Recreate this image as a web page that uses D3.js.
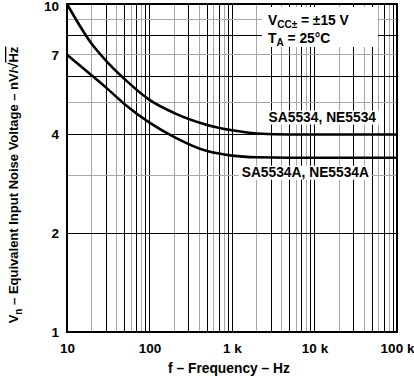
<!DOCTYPE html>
<html>
<head>
<meta charset="utf-8">
<script src="https://cdn.jsdelivr.net/npm/d3@7"></script>
<style>
    body { margin: 0; background: #fff; }
    svg text { font-family: "Liberation Sans", Arial, sans-serif; font-weight: bold; fill: #000; }
</style>
</head>
<body>
<div id="noiseChart"></div>
<script>

// Frequency points (Hz)
const frequencies = [10, 20, 30, 50, 100, 200, 500, 1000, 2000, 5000, 10000, 100000];

// Noise voltage, nV/sqrt(Hz)
const noiseSA5534 = [10, 7.55, 6.7, 5.9, 5.1, 4.65, 4.28, 4.12, 4.03, 4.0, 4.0, 4.0];
const noiseSA5534A = [7.0, 6.05, 5.55, 4.95, 4.35, 3.93, 3.56, 3.45, 3.41, 3.4, 3.4, 3.4];

const seriesNames = ["SA5534, NE5534", "SA5534A, NE5534A"];

// Tick labels
const xTickValues = [10, 100, 1000, 10000, 100000];
const xTickLabels = ["10", "100", "1 k", "10 k", "100 k"];
const yTickValues = [1, 2, 4, 7, 10];
const yTickLabels = ["1", "2", "4", "7", "10"];


class NoiseChart {

    constructor(parentElement) {
        this.parentElement = parentElement;
        this.initVis();
    }

    initVis() {
        let vis = this;

        vis.margin = {top: 4, right: 17, bottom: 44, left: 67};
        vis.width = 414;
        vis.height = 376;

        vis.svg = d3.select("#" + vis.parentElement)
            .append("svg")
            .attr("width", vis.width)
            .attr("height", vis.height);

        vis.x = d3.scaleLog()
            .domain([10, 100000])
            .range([vis.margin.left, vis.width - vis.margin.right]);

        vis.y = d3.scaleLog()
            .domain([1, 10])
            .range([vis.height - vis.margin.bottom, vis.margin.top]);

        vis.drawGrid();
        vis.drawCurves();
        vis.drawAxes();
        vis.drawLabels();
    }

    drawGrid() {
        let vis = this;

        // gray on even multiples, black on odd ones and decades
        let xLines = [];
        [10, 100, 1000, 10000].forEach(d => {
            d3.range(2, 11).forEach(k => xLines.push({v: d * k, k: k}));
        });
        let yLines = d3.range(2, 10).map(k => ({v: k, k: k}));

        let grid = vis.svg.append("g")
            .attr("shape-rendering", "crispEdges")
            .attr("stroke-width", 1);

        grid.selectAll(".vline")
            .data(xLines)
            .join("line")
            .attr("class", "vline")
            .attr("x1", d => vis.x(d.v))
            .attr("x2", d => vis.x(d.v))
            .attr("y1", vis.y(1))
            .attr("y2", vis.y(10))
            .attr("stroke", d => d.k % 2 === 0 && d.k !== 10 ? "#a8a8a8" : "#000");

        grid.selectAll(".hline")
            .data(yLines)
            .join("line")
            .attr("class", "hline")
            .attr("x1", vis.x(10))
            .attr("x2", vis.x(100000))
            .attr("y1", d => vis.y(d.v))
            .attr("y2", d => vis.y(d.v))
            .attr("stroke", d => d.k % 2 === 0 ? "#000" : "#a8a8a8");
    }

    drawCurves() {
        let vis = this;

        let line = d3.line()
            .x(d => vis.x(d[0]))
            .y(d => vis.y(d[1]))
            .curve(d3.curveMonotoneX);

        let series = [noiseSA5534, noiseSA5534A].map(vals => d3.zip(frequencies, vals));

        vis.svg.append("g")
            .attr("fill", "none")
            .attr("stroke", "#000")
            .attr("stroke-width", 2.6)
            .selectAll("path")
            .data(series)
            .join("path")
            .attr("d", line);
    }

    drawAxes() {
        let vis = this;

        let xAxis = vis.svg.append("g")
            .attr("transform", `translate(0,${vis.y(1)})`)
            .call(d3.axisBottom(vis.x)
                .tickValues(xTickValues)
                .tickFormat((d, i) => xTickLabels[i])
                .tickSize(0)
                .tickPadding(11));

        let yAxis = vis.svg.append("g")
            .attr("transform", `translate(${vis.x(10)},0)`)
            .call(d3.axisLeft(vis.y)
                .tickValues(yTickValues)
                .tickFormat((d, i) => yTickLabels[i])
                .tickSize(0)
                .tickPadding(8));

        [xAxis, yAxis].forEach(a => {
            a.select(".domain").remove();
            a.selectAll("text")
                .attr("font-family", null)
                .style("font-size", "13.5px");
        });

        // keep the top label inside the picture
        yAxis.selectAll("text")
            .filter(d => d === 10)
            .attr("dy", "0.45em");

        // frame
        vis.svg.append("rect")
            .attr("x", vis.x(10))
            .attr("y", vis.y(10))
            .attr("width", vis.x(100000) - vis.x(10))
            .attr("height", vis.y(1) - vis.y(10))
            .attr("fill", "none")
            .attr("stroke", "#000")
            .attr("stroke-width", 2);

        // x title
        vis.svg.append("text")
            .attr("x", 229)
            .attr("y", 373)
            .attr("text-anchor", "middle")
            .style("font-size", "13.8px")
            .text("f \u2013 Frequency \u2013 Hz");

        // y title
        let yTitle = vis.svg.append("text")
            .attr("transform", "rotate(-90)")
            .attr("x", -185)
            .attr("y", 18)
            .attr("text-anchor", "middle")
            .style("font-size", "13px");
        yTitle.append("tspan").text("V");
        yTitle.append("tspan").attr("dy", 4).style("font-size", "10px").text("n");
        yTitle.append("tspan").attr("dy", -4).text(" \u2013 Equivalent Input Noise Voltage \u2013 nV/\u221A");
        yTitle.append("tspan").style("text-decoration", "overline").text("Hz");
    }

    drawLabels() {
        let vis = this;

        // conditions box
        vis.svg.append("rect")
            .attr("x", 262).attr("y", 7)
            .attr("width", 116).attr("height", 40)
            .attr("fill", "#fff");

        let cond1 = vis.svg.append("text")
            .attr("x", 268).attr("y", 25)
            .style("font-size", "13.8px");
        cond1.append("tspan").text("V");
        cond1.append("tspan").attr("dy", 3).style("font-size", "10px").text("CC\u00B1");
        cond1.append("tspan").attr("dy", -3).text(" = \u00B115 V");

        let cond2 = vis.svg.append("text")
            .attr("x", 268).attr("y", 43)
            .style("font-size", "13.8px");
        cond2.append("tspan").text("T");
        cond2.append("tspan").attr("dy", 3).style("font-size", "10px").text("A");
        cond2.append("tspan").attr("dy", -3).text(" = 25\u00B0C");

        // curve labels, placed relative to the flat part of each curve
        let labelPos = [
            {name: seriesNames[0], x: 376, y: vis.y(noiseSA5534[noiseSA5534.length - 1]) - 13},
            {name: seriesNames[1], x: 369, y: vis.y(noiseSA5534A[noiseSA5534A.length - 1]) + 19}
        ];

        let labels = vis.svg.append("g")
            .selectAll("g")
            .data(labelPos)
            .join("g");

        labels.append("text")
            .attr("x", d => d.x)
            .attr("y", d => d.y)
            .attr("text-anchor", "end")
            .style("font-size", "13.8px")
            .text(d => d.name)
            .each(function(d) {
                let b = this.getBBox();
                d3.select(this.parentNode).insert("rect", "text")
                    .attr("x", b.x - 3)
                    .attr("y", b.y + 1)
                    .attr("width", b.width + 6)
                    .attr("height", b.height - 1)
                    .attr("fill", "#fff");
            });
    }
}

new NoiseChart("noiseChart");

</script>
</body>
</html>
